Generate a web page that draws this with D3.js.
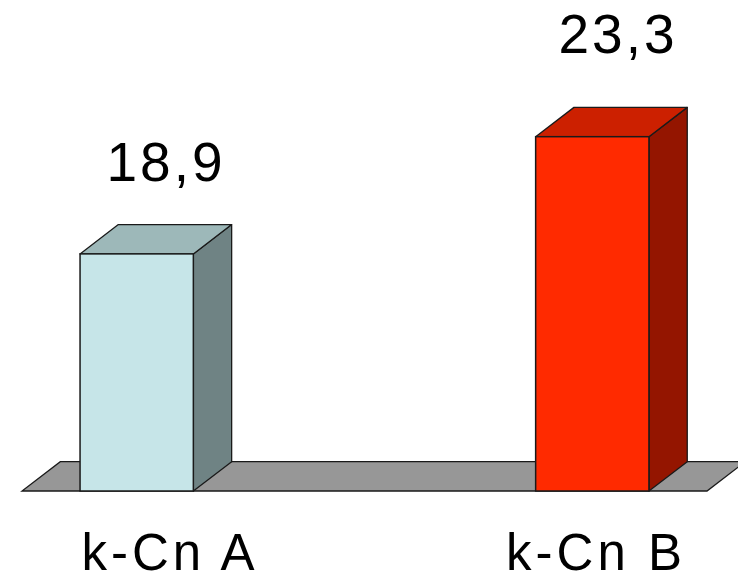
<!DOCTYPE html>
<html>
<head>
<meta charset="utf-8">
<script src="https://cdn.jsdelivr.net/npm/d3@7"></script>
<style>
  html, body { margin: 0; padding: 0; background: #ffffff; }
  svg { display: block; }
  text { font-family: "Liberation Sans", Arial, sans-serif; fill: #000; }
</style>
</head>
<body>
<svg id="chart" width="738" height="581"></svg>
<script>
// Chart data
const categories = ["k-Cn A", "k-Cn B"];
const values = [18.9, 23.3];
const frontColors = ["#c6e5e8", "#ff2a00"];
const topColors = ["#9db8b9", "#cc2000"];
const sideColors = ["#6f8384", "#941500"];

const W = 738, H = 581;
const svg = d3.select("#chart");

// 3D projection offsets
const depthX = 38.3, depthY = -29.3;
const barWidth = 113.3;

const x = d3.scalePoint().domain(categories).range([136.7, 592.3]);
const y = d3.scaleLinear().domain([10, 25]).range([491, 491 - 15 * 26.64]);
// Positions for the value captions and category captions
const labelX = d3.scalePoint().domain(categories).range([170, 596]);
const valueLabelX = d3.scalePoint().domain(categories).range([166, 618]);
const valueLabelY = d3.scaleLinear().domain([10, 25]).range([437.9, 4.3]);

const fmt = d3.formatLocale({ decimal: ",", thousands: ".", grouping: [3], currency: ["", ""] }).format(".1f");

const base = y.domain()[0];
const stroke = "#1a1a1a";

// Floor plate
const floorL = 22, floorR = 707;
svg.append("path")
  .attr("d", `M${floorL},${y(base)} L${floorR},${y(base)} L${floorR + depthX},${y(base) + depthY} L${floorL + depthX},${y(base) + depthY} Z`)
  .attr("fill", "#979797")
  .attr("stroke", stroke)
  .attr("stroke-width", 1.3);

const data = categories.map((c, i) => ({ c, v: values[i], i }));

const bars = svg.selectAll("g.bar").data(data).join("g").attr("class", "bar");

// Side face
bars.append("path")
  .attr("d", d => {
    const x1 = x(d.c) + barWidth / 2, yt = y(d.v), yb = y(base);
    return `M${x1},${yb} L${x1},${yt} L${x1 + depthX},${yt + depthY} L${x1 + depthX},${yb + depthY} Z`;
  })
  .attr("fill", d => sideColors[d.i])
  .attr("stroke", stroke).attr("stroke-width", 1.3).attr("stroke-linejoin", "round");

// Top face
bars.append("path")
  .attr("d", d => {
    const x0 = x(d.c) - barWidth / 2, x1 = x(d.c) + barWidth / 2, yt = y(d.v);
    return `M${x0},${yt} L${x1},${yt} L${x1 + depthX},${yt + depthY} L${x0 + depthX},${yt + depthY} Z`;
  })
  .attr("fill", d => topColors[d.i])
  .attr("stroke", stroke).attr("stroke-width", 1.3).attr("stroke-linejoin", "round");

// Front face
bars.append("rect")
  .attr("x", d => x(d.c) - barWidth / 2)
  .attr("y", d => y(d.v))
  .attr("width", barWidth)
  .attr("height", d => y(base) - y(d.v))
  .attr("fill", d => frontColors[d.i])
  .attr("stroke", stroke).attr("stroke-width", 1.5);

// Value labels
bars.append("text")
  .attr("x", d => valueLabelX(d.c))
  .attr("y", d => valueLabelY(d.v))
  .attr("text-anchor", "middle")
  .attr("font-size", 55)
  .attr("letter-spacing", 3)
  .text(d => fmt(d.v));

// Category labels
svg.selectAll("text.cat").data(categories).join("text")
  .attr("class", "cat")
  .attr("x", d => labelX(d))
  .attr("y", 570)
  .attr("text-anchor", "middle")
  .attr("font-size", 51)
  .attr("letter-spacing", 4)
  .text(d => d);
</script>
</body>
</html>
